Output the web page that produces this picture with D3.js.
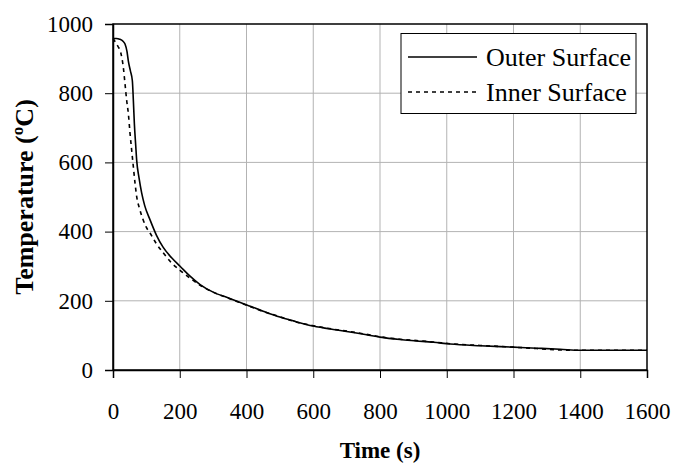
<!DOCTYPE html>
<html>
<head>
<meta charset="utf-8">
<script src="https://cdn.jsdelivr.net/npm/d3@7.9.0/dist/d3.min.js"></script>
<style>
  body { margin: 0; background: #fff; }
  svg { display: block; font-family: 'Liberation Serif', 'Times New Roman', serif; }
</style>
</head>
<body>
<svg width="675" height="465"></svg>
<script>
// time (s) and temperature (ºC)
const outerTime = [0, 10, 20, 30, 36, 42, 46, 52, 58, 61, 64, 68, 71, 78, 86, 95, 111, 130, 150, 175, 201, 230, 261, 300, 350, 401, 450, 500, 540, 600, 660, 710, 760, 800, 860, 910, 960, 1010, 1100, 1200, 1270, 1340, 1400, 1500, 1600];
const outerTemp = [958, 958, 956, 950, 942, 920, 893, 865, 836, 779, 712, 650, 606, 555, 511, 475, 434, 390, 355, 325, 300, 272, 247, 225, 207, 188, 170, 153, 142, 127, 117, 110, 102, 95, 88, 84, 80, 75, 70, 66, 63, 60, 57, 57, 57];

const innerTime = [0, 5, 15, 23, 31, 36, 41, 46, 51, 56, 61, 66, 71, 80, 90, 100, 111, 130, 151, 175, 201, 230, 261, 300, 350, 401, 450, 500, 540, 600, 660, 710, 760, 800, 860, 910, 960, 1010, 1100, 1200, 1270, 1340, 1400, 1500, 1600];
const innerTemp = [958, 951, 935, 918, 874, 827, 779, 741, 684, 635, 587, 540, 501, 465, 435, 412, 396, 365, 338, 310, 288, 266, 245, 225, 206, 187, 169, 154, 141, 128, 118, 111, 103, 96, 89, 85, 81, 76, 71, 66, 62, 58, 57, 57, 57];

const xTicks = [0, 200, 400, 600, 800, 1000, 1200, 1400, 1600];
const yTicks = [0, 200, 400, 600, 800, 1000];

const svg = d3.select('svg');
const m = { left: 113, right: 647, top: 24, bottom: 370 };

const x = d3.scaleLinear().domain([0, 1600]).range([m.left, m.right]);
const y = d3.scaleLinear().domain([0, 1000]).range([m.bottom, m.top]);

// grid
svg.append('g')
  .selectAll('line')
  .data(xTicks.slice(1, -1))
  .join('line')
  .attr('x1', d => x(d)).attr('x2', d => x(d))
  .attr('y1', m.top).attr('y2', m.bottom)
  .attr('stroke', '#b3b3b3').attr('stroke-width', 1);
svg.append('g')
  .selectAll('line')
  .data(yTicks.slice(1, -1))
  .join('line')
  .attr('x1', m.left).attr('x2', m.right)
  .attr('y1', d => y(d)).attr('y2', d => y(d))
  .attr('stroke', '#b3b3b3').attr('stroke-width', 1);

// frame
svg.append('rect')
  .attr('x', m.left).attr('y', m.top)
  .attr('width', m.right - m.left).attr('height', m.bottom - m.top)
  .attr('fill', 'none').attr('stroke', '#000').attr('stroke-width', 1.5);

// axes
const xAxis = svg.append('g')
  .attr('transform', `translate(0,${m.bottom})`)
  .call(d3.axisBottom(x).tickValues(xTicks).tickFormat(d3.format('d')).tickSize(8).tickPadding(34));
const yAxis = svg.append('g')
  .attr('transform', `translate(${m.left},0)`)
  .call(d3.axisLeft(y).tickValues(yTicks).tickFormat(d3.format('d')).tickSize(8).tickPadding(12));

[xAxis, yAxis].forEach(g => {
  g.select('.domain').attr('stroke-width', 1.5);
  g.selectAll('.tick line').attr('stroke-width', 1);
  g.selectAll('text')
    .attr('fill', '#000')
    .style('font-family', "'Liberation Serif', serif")
    .style('font-size', '23px');
});
xAxis.selectAll('text').attr('dy', '0.32em');

// lines
const line = d3.line().x(d => x(d[0])).y(d => y(d[1])).curve(d3.curveMonotoneX);
const outer = outerTime.map((t, i) => [t, outerTemp[i]]);
const inner = innerTime.map((t, i) => [t, innerTemp[i]]);

svg.append('path')
  .attr('d', line(inner))
  .attr('fill', 'none').attr('stroke', '#000')
  .attr('stroke-width', 1.6).attr('stroke-dasharray', '4,4');
svg.append('path')
  .attr('d', line(outer))
  .attr('fill', 'none').attr('stroke', '#000')
  .attr('stroke-width', 1.6);

// legend
const lg = svg.append('g');
lg.append('rect')
  .attr('x', 401).attr('y', 33.5).attr('width', 235).attr('height', 80)
  .attr('fill', '#fff').attr('stroke', '#000').attr('stroke-width', 1);
const items = [
  { label: 'Outer Surface', dash: null, y: 57 },
  { label: 'Inner Surface', dash: '4,4', y: 92 }
];
items.forEach(it => {
  lg.append('line')
    .attr('x1', 408).attr('x2', 477).attr('y1', it.y).attr('y2', it.y)
    .attr('stroke', '#000').attr('stroke-width', 1.6)
    .attr('stroke-dasharray', it.dash);
  lg.append('text')
    .attr('x', 486).attr('y', it.y + 9)
    .style('font-size', '26px')
    .text(it.label);
});

// axis titles
svg.append('text')
  .attr('x', (m.left + m.right) / 2).attr('y', 458)
  .attr('text-anchor', 'middle')
  .style('font-size', '23px').style('font-weight', 'bold')
  .text('Time (s)');
svg.append('text')
  .attr('transform', `translate(33,${(m.top + m.bottom) / 2}) rotate(-90)`)
  .attr('text-anchor', 'middle')
  .style('font-size', '26px').style('font-weight', 'bold')
  .text('Temperature (ºC)');
</script>
</body>
</html>
